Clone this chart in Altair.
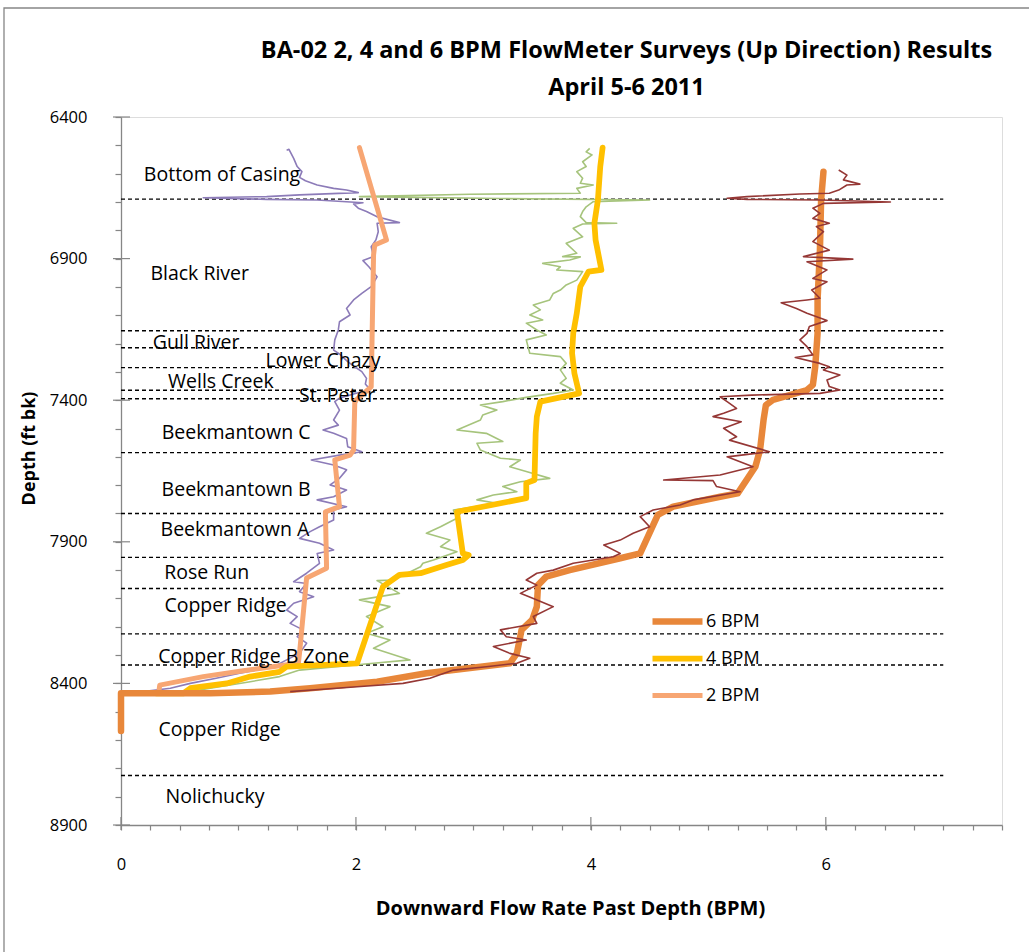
import altair as alt
import pandas as pd

# ---------------------------------------------------------------- text
TITLE_LINES = [
    "BA-02 2, 4 and 6 BPM FlowMeter Surveys (Up Direction) Results",
    "April 5-6 2011",
]
X_TITLE = "Downward Flow Rate Past Depth (BPM)"
Y_TITLE = "Depth (ft bk)"

# ---------------------------------------------------------------- axes
flow_ticks = [i * 0.25 for i in range(31)]          # 0 .. 7.5, minor every 0.25
flow_major = [0, 2, 4, 6]
depth_ticks = list(range(6400, 8901, 100))          # minor every 100 ft
depth_major = [6400, 6900, 7400, 7900, 8400, 8900]

# ---------------------------------------------------------------- formation tops (ft)
boundary_depths = [6690, 7155, 7215, 7285, 7365, 7395, 7585, 7800, 7955,
                   8065, 8225, 8335, 8725]
boundary_start = 0
boundary_end = 7

formation_names = ["Bottom of Casing", "Black River", "Gull River", "Lower Chazy",
                   "Wells Creek", "St. Peter", "Beekmantown  C", "Beekmantown  B",
                   "Beekmantown  A", "Rose Run", "Copper Ridge",
                   "Copper Ridge B Zone", "Copper Ridge", "Nolichucky"]
formation_flow = [0.86, 0.67, 0.64, 1.72, 0.85, 1.84, 0.98, 0.98, 0.97, 0.73,
                  0.89, 1.13, 0.84, 0.80]
formation_depth = [6605, 6954, 7198, 7262, 7336, 7385, 7516, 7717, 7858, 8010,
                   8127, 8307, 8565, 8801]

# ---------------------------------------------------------------- smoothed profiles
series_names = ["6 BPM", "4 BPM", "2 BPM"]
series_colors = ["#E8873A", "#FFC000", "#F7A673"]
series_widths = [6.5, 5, 4.5]

flow_6 = [5.98, 5.96, 5.95, 5.93, 5.93, 5.91, 5.89, 5.84, 5.55, 5.49,
          5.47, 5.44, 5.40, 5.25, 5.10, 4.70, 4.57, 4.42, 4.25, 3.82,
          3.62, 3.55, 3.54, 3.50, 3.41, 3.37, 3.31, 2.83, 2.60, 2.18,
          1.61, 1.27, 0.76, 0.0, 0.0]
depth_6 = [6593, 6693, 6870, 7046, 7164, 7282, 7346, 7364, 7399, 7417,
           7470, 7576, 7635, 7729, 7741, 7776, 7805, 7941, 7958, 8000,
           8023, 8053, 8129, 8176, 8211, 8294, 8329, 8353, 8364, 8394,
           8417, 8429, 8435, 8435, 8568]

flow_4 = [4.10, 4.08, 4.06, 4.03, 4.04, 4.09, 3.98, 3.91, 3.88, 3.85,
          3.84, 3.86, 3.90, 3.57, 3.54, 3.53, 3.52, 3.45, 3.45, 2.86,
          2.91, 2.96, 2.91, 2.77, 2.55, 2.37, 2.23, 2.01, 1.41, 1.35,
          1.10, 0.90, 0.59, 0.53, 0.30]
depth_4 = [6508, 6575, 6693, 6775, 6834, 6940, 6946, 6999, 7093, 7164,
           7234, 7305, 7376, 7405, 7458, 7517, 7682, 7693, 7746, 7794,
           7941, 7947, 7964, 7982, 8011, 8017, 8058, 8329, 8341, 8359,
           8376, 8400, 8417, 8435, 8435]

flow_2 = [2.03, 2.26, 2.16, 2.15, 2.13, 2.10, 2.00, 1.99, 1.98, 1.95,
          1.82, 1.86, 1.74, 1.75, 1.58, 1.52, 1.51, 1.04, 0.70, 0.33,
          0.32]
depth_2 = [6508, 6834, 6852, 6887, 7352, 7364, 7400, 7410, 7576, 7594,
           7611, 7776, 7794, 7993, 8028, 8293, 8329, 8355, 8376, 8406,
           8435]

# ---------------------------------------------------------------- raw survey traces
raw_flow_2 = [1.41, 1.43, 1.47, 1.50, 1.54, 1.52, 1.57, 1.67, 1.81, 1.92,
              2.02, 1.52, 1.24, 0.70, 1.24, 1.67, 2.06, 1.98, 2.02, 2.09,
              2.18, 2.37, 2.18, 2.19, 2.17, 2.13, 2.15, 2.06, 2.11, 2.18,
              2.13, 2.05, 1.98, 1.92, 1.95, 1.86, 1.85, 1.82, 1.81, 1.86,
              1.93, 1.99, 2.05, 2.09, 2.08, 2.12, 1.98, 1.86, 1.82, 1.86,
              1.81, 1.85, 1.72, 1.81, 1.92, 1.93, 2.05, 1.86, 1.62, 1.81,
              1.92, 1.86, 1.78, 1.92, 1.81, 1.67, 1.92, 1.81, 1.81, 1.69,
              1.61, 1.52, 1.69, 1.81, 1.67, 1.69, 1.58, 1.47, 1.58, 1.52,
              1.64, 1.47, 1.41, 1.50, 1.44, 1.55, 1.50, 1.58, 1.52, 1.41,
              1.30, 1.01, 0.81, 0.59, 0.42, 0.19, 0.03]
raw_depth_2 = [6517, 6514, 6546, 6575, 6593, 6613, 6625, 6640, 6652, 6658,
               6667, 6675, 6681, 6685, 6691, 6693, 6703, 6707, 6722, 6734,
               6752, 6773, 6775, 6805, 6834, 6858, 6893, 6907, 6929, 6964,
               6999, 7023, 7046, 7076, 7099, 7123, 7152, 7187, 7223, 7237,
               7264, 7282, 7299, 7323, 7343, 7362, 7378, 7393, 7405, 7435,
               7470, 7488, 7505, 7517, 7535, 7564, 7582, 7594, 7611, 7629,
               7646, 7676, 7699, 7717, 7741, 7752, 7776, 7788, 7823, 7847,
               7864, 7888, 7905, 7929, 7941, 7976, 8011, 8041, 8047, 8076,
               8094, 8117, 8141, 8164, 8188, 8211, 8235, 8258, 8294, 8317,
               8341, 8364, 8382, 8400, 8417, 8429, 8431]

raw_flow_4 = [3.99, 3.96, 4.01, 3.93, 3.96, 3.88, 3.93, 3.91, 4.02, 3.88,
              3.91, 2.97, 2.03, 3.23, 4.50, 4.02, 3.96, 3.93, 3.91, 3.96,
              4.22, 3.93, 3.85, 3.93, 3.79, 3.88, 3.76, 3.91, 3.82, 3.59,
              3.74, 3.71, 3.93, 3.88, 3.79, 3.74, 3.68, 3.65, 3.51, 3.57,
              3.48, 3.59, 3.45, 3.54, 3.62, 3.45, 3.48, 3.74, 3.79, 3.74,
              3.79, 3.74, 3.85, 3.68, 3.45, 3.25, 3.06, 3.20, 3.08, 3.06,
              2.86, 3.11, 3.25, 3.03, 3.06, 3.23, 3.40, 3.31, 3.45, 3.65,
              3.40, 3.25, 3.37, 3.17, 3.03, 3.20, 2.83, 2.86, 2.72, 2.60,
              2.80, 2.72, 2.86, 2.66, 2.57, 2.55, 2.32, 2.18, 2.37, 2.03,
              2.29, 2.09, 2.23, 2.09, 2.29, 2.15, 2.46, 2.15, 1.52, 1.35,
              1.10, 0.76, 0.53]
raw_depth_4 = [6511, 6523, 6534, 6558, 6575, 6593, 6616, 6634, 6640, 6652,
               6669, 6673, 6681, 6688, 6693, 6699, 6717, 6734, 6752, 6773,
               6775, 6778, 6793, 6823, 6846, 6881, 6893, 6894, 6905, 6917,
               6929, 6940, 6946, 6976, 6993, 7011, 7023, 7046, 7064, 7081,
               7099, 7117, 7128, 7152, 7170, 7187, 7234, 7246, 7270, 7293,
               7323, 7340, 7364, 7376, 7390, 7405, 7417, 7435, 7452, 7470,
               7505, 7517, 7546, 7552, 7576, 7605, 7611, 7635, 7652, 7676,
               7688, 7705, 7723, 7735, 7752, 7764, 7788, 7817, 7847, 7870,
               7894, 7917, 7935, 7964, 7976, 7988, 8035, 8037, 8082, 8105,
               8129, 8164, 8200, 8223, 8247, 8276, 8317, 8329, 8353, 8376,
               8394, 8417, 8433]

raw_flow_6 = [6.11, 6.18, 6.15, 6.29, 6.18, 6.11, 6.03, 5.78, 5.33, 5.16,
              5.33, 5.95, 6.55, 5.98, 5.89, 5.95, 5.89, 6.03, 5.92, 5.98,
              5.89, 6.03, 5.81, 6.23, 5.84, 6.01, 5.89, 6.01, 5.88, 5.95,
              5.84, 5.62, 5.75, 5.84, 6.01, 5.86, 5.84, 5.78, 5.84, 5.89,
              5.74, 5.95, 6.03, 5.98, 6.12, 6.01, 6.03, 6.12, 5.95, 5.37,
              5.10, 5.16, 5.24, 5.13, 5.04, 5.28, 5.13, 5.24, 5.18, 5.52,
              5.16, 5.38, 5.10, 4.62, 5.04, 5.07, 5.27, 4.87, 4.76, 4.53,
              4.42, 4.50, 4.36, 4.25, 4.11, 4.25, 4.19, 3.85, 3.68, 3.54,
              3.45, 3.54, 3.40, 3.51, 3.68, 3.51, 3.54, 3.23, 3.28, 3.45,
              3.17, 3.31, 3.48, 3.37, 3.11, 2.83, 2.63, 2.40, 2.01, 1.44]
raw_depth_6 = [6587, 6605, 6622, 6637, 6640, 6658, 6669, 6672, 6681, 6687,
               6691, 6693, 6700, 6705, 6722, 6740, 6758, 6775, 6787, 6805,
               6840, 6870, 6893, 6902, 6911, 6940, 6970, 6982, 7011, 7040,
               7046, 7056, 7076, 7093, 7119, 7140, 7164, 7187, 7211, 7240,
               7249, 7270, 7282, 7293, 7311, 7329, 7352, 7364, 7376, 7382,
               7388, 7405, 7429, 7446, 7458, 7476, 7499, 7529, 7541, 7582,
               7600, 7635, 7664, 7682, 7684, 7705, 7723, 7752, 7770, 7788,
               7811, 7847, 7870, 7894, 7911, 7941, 7953, 7976, 8000, 8011,
               8035, 8053, 8082, 8100, 8129, 8164, 8188, 8211, 8235, 8247,
               8270, 8294, 8311, 8329, 8341, 8353, 8382, 8400, 8412, 8429]

raw_colors = {"2": "#8C7BB8", "4": "#A6C47C", "6": "#953735"}

# ---------------------------------------------------------------- styling
FONT = "Open Sans"
GRAY = "#868686"
PLOT_W, PLOT_H = 881, 708


def profile(flows, depths, name=None):
    df = pd.DataFrame({"flow": flows, "depth": depths})
    df["seq"] = range(len(df))
    if name is not None:
        df["series"] = name
    return df


x_scale = alt.Scale(domain=[0, 7.5], nice=False, zero=False)
y_scale = alt.Scale(domain=[6400, 8900], reverse=True, nice=False, zero=False)

x_axis = alt.Axis(
    title=X_TITLE, values=flow_ticks,
    labelExpr="datum.value % 2 === 0 ? format(datum.value, 'd') : ''",
    grid=False, tickSize=5, tickColor=GRAY, tickWidth=1.2,
    domainColor=GRAY, domainWidth=1.3, labelFlush=False,
    labelFont=FONT, labelFontSize=16.5, labelColor="#000000", labelPadding=26,
    titleFont=FONT, titleFontSize=20, titleFontWeight="bold", titleColor="#000000",
    titleX=449, titleY=83, titleBaseline="middle",
)
y_axis = alt.Axis(
    title=Y_TITLE, values=depth_ticks,
    labelExpr="(datum.value - 6400) % 500 === 0 ? format(datum.value, 'd') : ''",
    grid=False, tickSize=6, tickColor=GRAY, tickWidth=1.2,
    domainColor=GRAY, domainWidth=1.3, labelFlush=False,
    labelFont=FONT, labelFontSize=16.5, labelColor="#000000", labelPadding=28,
    titleFont=FONT, titleFontSize=18, titleFontWeight="bold", titleColor="#000000",
    titleX=-92, titleY=331, titleBaseline="middle", titleAlign="center",
)

X = alt.X("flow:Q", scale=x_scale, axis=x_axis)
Y = alt.Y("depth:Q", scale=y_scale, axis=y_axis)

legend = alt.Legend(
    title=None, orient="none", legendX=528, legendY=486, padding=0,
    symbolType="stroke", symbolSize=2500, labelFont=FONT, labelFontSize=18,
    labelColor="#000000", labelOffset=0, rowPadding=0, clipHeight=37,
)
color_enc = alt.Color("series:N", scale=alt.Scale(domain=series_names, range=series_colors),
                      legend=legend)
width_enc = alt.StrokeWidth("series:N",
                            scale=alt.Scale(domain=series_names, range=series_widths),
                            legend=legend)

# chart frame around everything
frame = alt.Chart(pd.DataFrame({"k": [0]})).mark_rect(
    fill="transparent", stroke=GRAY, strokeWidth=1.3
).encode(x=alt.value(-117), y=alt.value(-109), x2=alt.value(960), y2=alt.value(900))

# formation boundaries
bounds = pd.DataFrame({"depth": boundary_depths})
bounds["flow"] = boundary_start
bounds["flow_end"] = boundary_end
boundary_rules = alt.Chart(bounds).mark_rule(
    color="#000000", strokeDash=[4, 3], strokeWidth=1.4
).encode(x=X, x2="flow_end:Q", y=Y)

# major ticks crossing the axes
y_major = alt.Chart(pd.DataFrame({"depth": depth_major})).mark_rule(
    color=GRAY, strokeWidth=1.2
).encode(y=Y, x=alt.value(-8), x2=alt.value(9))
x_major = alt.Chart(pd.DataFrame({"flow": flow_major})).mark_rule(
    color=GRAY, strokeWidth=1.2
).encode(x=X, y=alt.value(PLOT_H - 8), y2=alt.value(PLOT_H + 5))

# formation names
labels = alt.Chart(pd.DataFrame({"name": formation_names, "flow": formation_flow,
                                 "depth": formation_depth})).mark_text(
    font=FONT, fontSize=19.5, color="#000000", align="center", baseline="middle"
).encode(x=X, y=Y, text="name:N")


def raw_trace(flows, depths, color):
    return alt.Chart(profile(flows, depths)).mark_line(
        color=color, strokeWidth=1.6, strokeJoin="round"
    ).encode(x=X, y=Y, order="seq:Q")


def smooth_trace(flows, depths, name):
    return alt.Chart(profile(flows, depths, name)).mark_line(
        strokeCap="round", strokeJoin="round"
    ).encode(x=X, y=Y, order="seq:Q", color=color_enc, strokeWidth=width_enc)


chart = alt.layer(
    frame,
    boundary_rules,
    raw_trace(raw_flow_2, raw_depth_2, raw_colors["2"]),
    raw_trace(raw_flow_4, raw_depth_4, raw_colors["4"]),
    smooth_trace(flow_2, depth_2, "2 BPM"),
    smooth_trace(flow_4, depth_4, "4 BPM"),
    smooth_trace(flow_6, depth_6, "6 BPM"),
    raw_trace(raw_flow_6, raw_depth_6, raw_colors["6"]),
    labels,
    y_major,
    x_major,
).properties(
    width=PLOT_W, height=PLOT_H,
    title=alt.TitleParams(
        text=TITLE_LINES, font=FONT, fontSize=23.5, fontWeight="bold", color="#000000",
        anchor="middle", frame="group", dx=65, dy=92, offset=0, lineHeight=37,
    ),
    autosize=alt.AutoSizeParams(type="none"),
    padding={"left": 121, "top": 117, "right": 27, "bottom": 127},
).configure_view(stroke="transparent").configure(background="white")

chart.save("out.html", embed_options={"renderer": "svg", "actions": False})
